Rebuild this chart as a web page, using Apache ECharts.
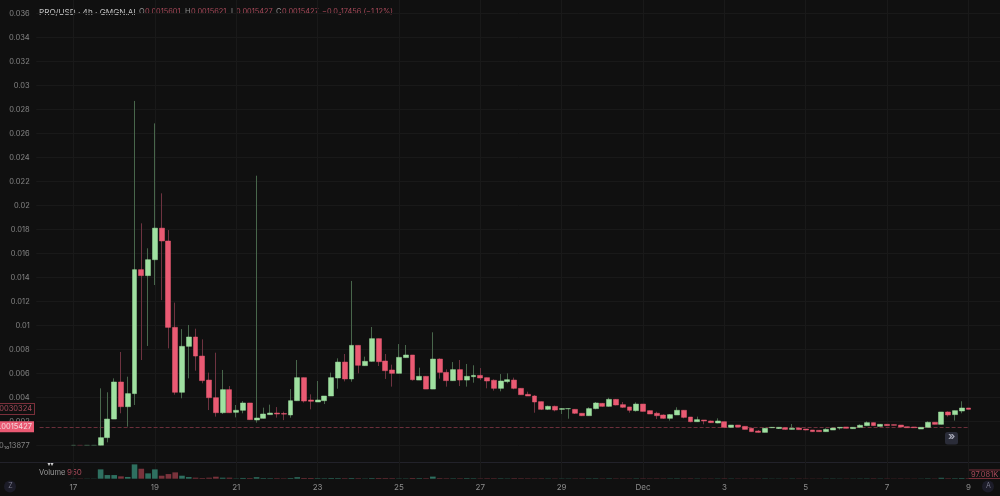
<!DOCTYPE html>
<html>
<head>
<meta charset="utf-8">
<style>html,body{margin:0;padding:0;background:#101010}#c{width:1000px;height:496px}</style>
<script src="https://cdn.jsdelivr.net/npm/echarts@6/dist/echarts.min.js"></script>
</head>
<body>
<div id="c"></div>
<script>
// Prices are listed in thousandths of a dollar; volumes in thousands.
const opens = [
0,.01,0,0,.01,.64,2.19,5.28,3.22,4.31,
14.64,14.14,15.47,18.1,17.03,9.83,4.42,8.25,9.03,7.44,
5.44,3.97,2.72,4.64,2.75,2.92,3.53,2.11,2.25,2.56,
2.69,2.65,2.53,3.72,5.64,3.78,3.61,3.72,4.11,5.61,
6.94,5.53,8.33,6.64,7.0,8.89,7.03,6.28,6.0,7.31,
7.53,5.44,5.75,4.69,7.19,6.08,5.39,6.31,5.44,5.72,
5.83,5.64,5.42,4.75,5.31,5.44,4.75,4.25,4.11,3.64,
3.0,3.25,3.0,3.05,3.0,2.67,2.47,3.06,3.5,3.25,
3.83,3.39,3.2,2.89,3.44,2.89,2.67,2.53,2.25,2.53,
2.92,2.36,1.97,2.11,2.03,1.86,1.97,1.5,1.69,1.58,
1.42,1.19,1.08,1.47,1.4,1.47,1.33,1.44,1.36,1.28,
1.25,1.14,1.28,1.44,1.53,1.39,1.5,1.64,1.89,1.58,
1.75,1.72,1.69,1.55,1.53,1.36,1.5,1.92,1.75,2.78,
2.56,2.86,3.11];
const closes = [
.01,0,.01,.01,.64,2.19,5.28,3.22,4.31,14.64,
14.14,15.47,18.1,17.03,9.83,4.42,8.25,9.03,7.44,5.39,
3.97,2.72,4.64,2.72,2.92,3.53,2.14,2.28,2.61,2.69,
2.61,2.6,3.72,5.64,3.69,3.67,3.78,4.11,5.64,6.94,
5.53,8.33,6.67,7.0,8.89,6.97,6.22,6.0,7.33,7.53,
5.47,5.75,4.69,7.19,6.08,5.39,6.31,5.44,5.75,5.83,
5.61,5.36,4.75,5.36,5.47,4.75,4.22,4.11,3.61,3.0,
3.25,2.94,3.06,3.06,2.67,2.47,3.06,3.53,3.25,3.83,
3.36,3.17,2.92,3.44,2.83,2.61,2.47,2.25,2.56,2.92,
2.33,1.97,2.14,2.03,1.89,2.03,1.5,1.69,1.53,1.33,
1.14,1.08,1.42,1.5,1.5,1.33,1.42,1.31,1.28,1.14,
1.14,1.33,1.44,1.5,1.42,1.5,1.67,1.89,1.64,1.75,
1.64,1.67,1.53,1.47,1.47,1.5,1.92,1.75,2.78,2.53,
2.89,3.11,3.0];
const highs = [
.01,.01,.01,.01,4.75,4.42,5.58,7.78,5.72,28.7,
18.5,16.42,26.83,21.0,17.94,11.89,9.69,10.03,9.72,8.83,
6.06,7.72,6.28,4.94,3.36,3.69,3.53,22.47,3.14,3.39,
3.19,2.8,4.69,7.11,5.64,4.25,5.36,4.11,6.06,7.25,
7.61,13.7,8.33,7.39,9.86,8.89,7.61,6.72,8.44,8.36,
7.53,6.47,5.75,9.42,7.25,6.33,6.94,7.11,6.78,6.67,
6.44,5.64,5.5,5.94,6.0,5.64,4.75,4.47,4.19,3.64,
3.31,3.31,3.11,3.08,3.0,2.67,3.17,3.61,3.53,3.97,
3.86,3.61,3.2,3.58,3.44,2.89,2.8,2.58,2.61,3.17,
2.94,2.36,2.39,2.11,2.06,2.25,1.97,1.69,1.69,1.58,
1.42,1.28,1.42,1.53,1.53,1.5,1.78,1.47,1.36,1.28,
1.25,1.42,1.44,1.5,1.53,1.5,1.75,2.0,1.89,1.78,
1.75,1.72,1.69,1.55,1.53,1.5,2.0,1.92,2.78,2.83,
2.89,3.67,3.11];
const lows = [
0,0,0,0,0,.25,2.19,2.67,1.56,3.36,
7.11,8.28,13.36,12.1,8.08,4.22,3.92,5.58,6.22,5.17,
2.94,2.39,2.61,2.72,2.33,2.67,2.14,1.89,2.25,2.56,
2.31,2.1,2.3,3.72,3.56,3.0,3.61,3.44,4.11,4.72,
5.33,5.3,6.0,6.64,6.97,6.61,5.53,4.89,6.0,7.31,
5.39,5.44,4.69,4.69,5.56,4.89,5.39,4.94,4.89,5.22,
5.44,4.75,4.56,4.5,5.17,4.67,4.22,4.11,2.72,2.94,
2.94,2.83,2.61,2.22,2.61,2.44,2.47,3.0,3.22,3.22,
3.33,3.11,2.72,2.81,2.83,2.61,2.19,2.22,2.06,2.53,
2.25,1.92,1.97,1.75,1.86,1.83,1.5,1.47,1.53,1.33,
1.14,1.06,1.08,1.44,1.36,1.31,1.33,1.31,1.25,1.14,
1.14,1.14,1.28,1.31,1.42,1.39,1.44,1.64,1.64,1.58,
1.64,1.67,1.53,1.47,1.47,1.36,1.5,1.75,1.75,2.39,
2.06,2.67,3.0];
const volumes = [
40,50,40,40,1870,730,730,470,350,2870,
2000,1070,1870,600,930,1270,600,330,200,130,
200,400,200,200,60,150,120,300,120,100,
100,80,130,300,140,140,100,90,130,120,
100,130,100,60,120,130,120,100,60,60,
130,110,100,420,110,90,80,90,110,90,
70,90,90,80,60,100,90,80,70,80,
60,60,50,50,60,60,70,80,60,80,
60,60,60,70,70,60,70,60,60,70,
60,70,50,50,50,50,70,50,50,50,
50,50,60,40,40,40,50,50,40,40,
40,50,50,40,40,40,50,60,70,50,
50,40,50,40,40,40,70,50,180,90,
90,120,97];
const dateLabels = ['17','19','21','23','25','27','29','Dec','3','5','7','9'];
const candlesPerLabel = 12;
const zeroLabel = '0.0\u2081\u208013877';
const lastPrice = 0.0015427;
const prevMark = 0.0030324;
const headerParts = [
  ['PRO/USD \u00b7 4h \u00b7 GMGN.AI', 39, '#c2c2c2', 8.2],
  ['O', 139, '#8f8f8f', 7.4], ['0.0015601', 145, '#a84a5a', 7.4],
  ['H', 185, '#8f8f8f', 7.4], ['0.0015621', 191, '#a84a5a', 7.4],
  ['L', 231, '#8f8f8f', 7.4], ['0.0015427', 236, '#a84a5a', 7.4],
  ['C', 276, '#8f8f8f', 7.4], ['0.0015427', 282, '#a84a5a', 7.4],
  ['\u22120.0\u208417456 (\u22121.12%)', 322, '#a84a5a', 7.4]
];

const PAD = 5;
const STEP = 6.78;
const GREEN = '#9fe0a0', RED = '#ea5a73', GREEN_W = '#48664b', RED_W = '#6e3340';
const FONT = 'Inter, Roboto, sans-serif';
const n = opens.length;
const pad = new Array(PAD).fill('-');
const cats = new Array(n + PAD * 2).fill('');
dateLabels.forEach((t, k) => { cats[PAD + k * candlesPerLabel] = t; });
const P = m => m / 1000;
const up = i => closes[i] >= opens[i];
const wickData = pad.concat(opens.map((o, i) => [P(o), P(closes[i]), P(lows[i]), P(highs[i])]));
const bodyData = pad.concat(opens.map((o, i) => {
  const c = closes[i];
  const item = { value: [P(o), P(c), P(Math.min(o, c)), P(Math.max(o, c))] };
  if (i < 4) item.itemStyle = { color: up(i) ? '#3f5f4a' : '#5a2a34', borderColor: up(i) ? '#3f5f4a' : '#5a2a34', color0: '#5a2a34', borderColor0: '#5a2a34' };
  return item;
}));
const volData = pad.concat(volumes.map((v, i) => ({ value: v, itemStyle: { color: up(i) ? '#2e7060' : '#7a333c' } })));
const hasLabel = (idx, val) => val !== '';

const gridLine = { color: '#191919', width: 1 };
const chart = echarts.init(document.getElementById('c'), null, { renderer: 'canvas' });
const lastIdx = PAD + n - 1;
const graphicItems = headerParts.map(p => ({
  type: 'text', left: p[1], top: 8.5, silent: true,
  style: { text: p[0], fill: p[2], font: p[3] + 'px ' + FONT }
}));
graphicItems.push(
  { type: 'line', silent: true, shape: { x1: 0, y1: 462.5, x2: 1000, y2: 462.5 }, style: { stroke: '#22222a', lineWidth: 1 } },
  { type: 'text', left: 39, top: 468.5, silent: true, style: { text: 'Volume', fill: '#9a9a9a', font: '7.5px ' + FONT } },
  { type: 'text', left: 67, top: 468.5, silent: true, style: { text: '950', fill: '#a84a5a', font: '8px ' + FONT } },
  { type: 'text', left: 47.5, top: 461, silent: true, style: { text: '\u25be\u25be', fill: '#d0d0d0', font: '6px "DejaVu Sans"' } },
  { type: 'rect', silent: true, shape: { x: 968.5, y: 470, width: 33, height: 8.5 }, style: { fill: '#101010', stroke: '#7a2f3a', lineWidth: 1 } },
  { type: 'text', left: 971, top: 470.5, silent: true, style: { text: '97.081K', fill: '#a84a5a', font: '7.5px ' + FONT } },
  { type: 'rect', silent: true, shape: { x: 945, y: 432, width: 13, height: 12.5, r: 2.5 }, style: { fill: '#2a2c38' } },
  { type: 'text', left: 948, top: 431.5, silent: true, style: { text: '\u00bb', fill: '#a4a6b4', font: 'bold 11px ' + FONT } },
  { type: 'circle', silent: true, shape: { cx: 10, cy: 486.5, r: 6 }, style: { fill: '#1c1c28' } },
  { type: 'text', left: 8.2, top: 482.5, silent: true, style: { text: 'Z', fill: '#77778a', font: '7px ' + FONT } },
  { type: 'circle', silent: true, shape: { cx: 988, cy: 486.5, r: 6 }, style: { fill: '#1c1c28' } },
  { type: 'text', left: 986, top: 482.5, silent: true, style: { text: 'A', fill: '#77778a', font: '7px ' + FONT } }
);

chart.setOption({
  animation: false,
  backgroundColor: '#101010',
  textStyle: { fontFamily: FONT },
  grid: [
    { left: 73.5 - (PAD + 0.5) * STEP, top: 1.33, width: (n + PAD * 2) * STEP, height: 468, outerBoundsMode: 'none' },
    { left: 73.5 - PAD * STEP, top: 0, width: (n + PAD * 2 - 1) * STEP, height: 478.7, outerBoundsMode: 'none' }
  ],
  xAxis: [
    { type: 'category', gridIndex: 0, data: cats, boundaryGap: true,
      axisLine: { show: false }, axisTick: { show: false }, axisLabel: { show: false },
      splitLine: { show: false } },
    { type: 'category', gridIndex: 1, data: cats, boundaryGap: false,
      axisLine: { show: false }, axisTick: { show: false },
      axisLabel: { show: true, interval: hasLabel, color: '#8c8c8c', fontSize: 8, margin: 4.5, hideOverlap: false },
      splitLine: { show: true, interval: hasLabel, lineStyle: gridLine } }
  ],
  yAxis: [
    { type: 'value', gridIndex: 0, min: -0.002, max: 0.037, interval: 0.002, position: 'left',
      axisLine: { show: false }, axisTick: { show: false },
      axisLabel: { color: '#858585', fontSize: 7.5, margin: 6.5, showMinLabel: false, showMaxLabel: false,
        formatter: v => Math.abs(v) < 1e-9 ? zeroLabel : String(Number(v.toFixed(3))) },
      splitLine: { show: true, showMinLine: false, showMaxLine: false, lineStyle: gridLine } },
    { type: 'value', gridIndex: 1, min: 0, max: 96000, axisLine: { show: false }, axisTick: { show: false },
      axisLabel: { show: false }, splitLine: { show: false } }
  ],
  graphic: graphicItems,
  series: [
    { name: 'wicks', type: 'candlestick', xAxisIndex: 0, yAxisIndex: 0, barWidth: 1, data: wickData, z: 2, silent: true,
      itemStyle: { color: GREEN_W, color0: RED_W, borderColor: GREEN_W, borderColor0: RED_W, borderWidth: 1 },
      markLine: {
        silent: true, symbol: 'none', precision: 7, z: 1, animation: false,
        data: [
          [{ coord: [0, lastPrice], lineStyle: { color: '#6b2f3a', type: 'dashed', width: 1 },
             label: { show: true, position: 'start', distance: 5.6, formatter: lastPrice.toFixed(7), color: '#f4d8dc', fontSize: 7.5, backgroundColor: RED, padding: [1.5, 2] } },
           { coord: [lastIdx, lastPrice] }],
          [{ coord: [0, prevMark], lineStyle: { color: 'transparent', width: 0 },
             label: { show: true, position: 'start', distance: 5.6, formatter: prevMark.toFixed(7), color: '#a84a5a', fontSize: 7.5, backgroundColor: '#101010', borderColor: '#7a2f3a', borderWidth: 1, padding: [1, 2] } },
           { coord: [4, prevMark] }]
        ]
      } },
    { name: 'bodies', type: 'candlestick', xAxisIndex: 0, yAxisIndex: 0, barWidth: 5.4, data: bodyData, z: 3, silent: true,
      itemStyle: { color: GREEN, color0: RED, borderColor: GREEN, borderColor0: RED, borderWidth: 0.5 } },
    { name: 'volume', type: 'bar', xAxisIndex: 1, yAxisIndex: 1, barWidth: 5.6, data: volData, silent: true }
  ]
});
</script>
</body>
</html>
